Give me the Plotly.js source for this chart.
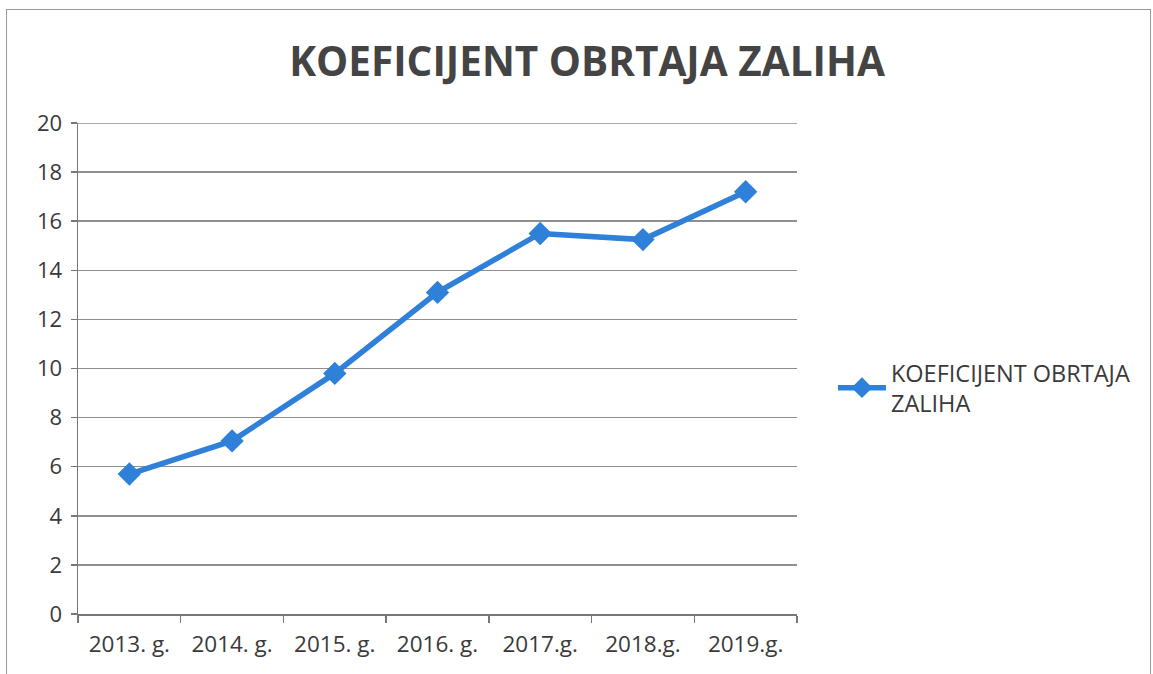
<!DOCTYPE html>
<html>
<head>
<meta charset="utf-8">
<script src="https://cdn.plot.ly/plotly-3.0.1.min.js"></script>
<style>
  html, body { margin: 0; padding: 0; background: #fff; }
  #wrap { position: relative; width: 1153px; height: 674px; overflow: hidden; }
  #chart { position: absolute; left: 0; top: 0; width: 1153px; height: 674px; }
  #frame { position: absolute; left: 6px; top: 9px; width: 1143px; height: 700px; border: 1.5px solid #9a9a9a; pointer-events: none; }
</style>
</head>
<body>
<div id="wrap">
  <div id="chart"></div>
  <div id="frame"></div>
</div>
<script>
const categories = ["2013. g.", "2014. g.", "2015. g.", "2016. g.", "2017.g.", "2018.g.", "2019.g."];
const values = [5.7, 7.05, 9.8, 13.1, 15.5, 15.25, 17.2];
const seriesName = "KOEFICIJENT OBRTAJA<br>ZALIHA";
const chartTitle = "KOEFICIJENT OBRTAJA ZALIHA";
const yTicks = [0, 2, 4, 6, 8, 10, 12, 14, 16, 18, 20];
const yMax = 20;

const trace = {
  x: categories,
  y: values,
  type: "scatter",
  mode: "lines+markers",
  name: seriesName,
  line: { color: "#2f80d8", width: 5.5 },
  marker: { symbol: "diamond", size: 18, color: "#2f80d8" }
};

const layout = {
  width: 1153,
  height: 674,
  paper_bgcolor: "rgba(0,0,0,0)",
  plot_bgcolor: "#ffffff",
  margin: { l: 78, r: 356, t: 123, b: 60 },
  font: { family: "Open Sans, Noto Sans, sans-serif", color: "#3a3a3a" },
  title: {
    text: "<b>" + chartTitle + "</b>",
    font: { family: "Open Sans, sans-serif", size: 40.5, color: "#444444" },
    x: 587 / 1153, xanchor: "center", xref: "container",
    y: 1 - 62 / 674, yanchor: "middle", yref: "container"
  },
  xaxis: {
    type: "category",
    range: [-0.5, 6.5],
    tickson: "boundaries",
    ticks: "outside",
    ticklen: 7,
    tickcolor: "#777",
    tickwidth: 1.5,
    showline: true,
    linecolor: "#777",
    linewidth: 1.5,
    showgrid: false,
    tickfont: { size: 22.5, color: "#3a3a3a" },
    ticklabelstandoff: 9,
    fixedrange: true
  },
  yaxis: {
    range: [0, yMax],
    tickvals: yTicks,
    ticks: "outside",
    ticklen: 6,
    tickcolor: "#777",
    tickwidth: 1.5,
    showline: true,
    linecolor: "#777",
    linewidth: 1.5,
    showgrid: true,
    gridcolor: "#8f8f8f",
    gridwidth: 1.5,
    zeroline: false,
    tickfont: { size: 22, color: "#3a3a3a" },
    ticklabelstandoff: 4,
    fixedrange: true
  },
  shapes: [
    { type: "line", xref: "paper", yref: "y", x0: 0, x1: 1, y0: yMax, y1: yMax,
      line: { color: "#8f8f8f", width: 1.5 }, layer: "below" }
  ],
  showlegend: true,
  legend: {
    x: 1.05, xanchor: "left",
    y: 0.46, yanchor: "middle",
    font: { size: 23.5, color: "#3a3a3a" },
    bgcolor: "rgba(0,0,0,0)",
    itemwidth: 48
  }
};

Plotly.newPlot("chart", [trace], layout, { displayModeBar: false, staticPlot: true });
</script>
</body>
</html>
